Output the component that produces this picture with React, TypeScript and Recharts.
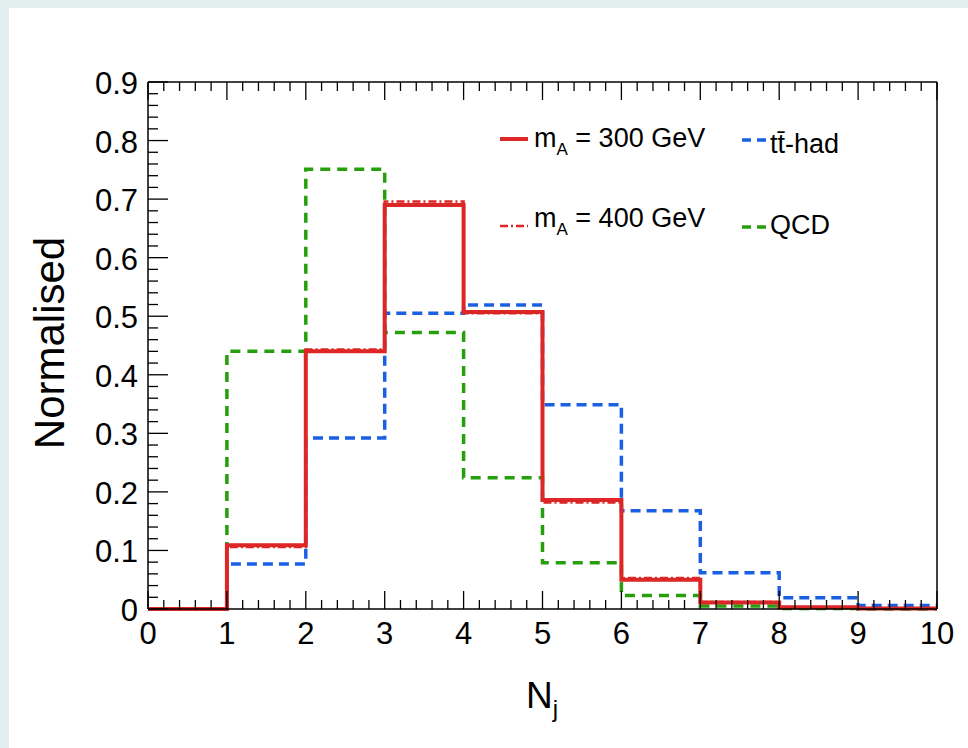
import React from "react";
import { LineChart, Line, XAxis, YAxis } from "recharts";

// bin lower edges (last entry closes the final bin)
const binEdges = [0, 1, 2, 3, 4, 5, 6, 7, 8, 9, 10];

// normalised counts per N_j bin
const mA300 = [0, 0.109, 0.44, 0.69, 0.507, 0.186, 0.05, 0.011, 0.003, 0.001];
const mA400 = [0, 0.106, 0.443, 0.696, 0.505, 0.182, 0.053, 0.012, 0.003, 0.001];
const ttHad = [0, 0.077, 0.292, 0.505, 0.519, 0.349, 0.168, 0.062, 0.019, 0.006];
const qcd = [0, 0.44, 0.751, 0.472, 0.224, 0.079, 0.023, 0.005, 0.001, 0];

const xMajorLabels = ["0", "1", "2", "3", "4", "5", "6", "7", "8", "9", "10"];
const yMajorLabels = ["0", "0.1", "0.2", "0.3", "0.4", "0.5", "0.6", "0.7", "0.8", "0.9"];

const xTicks = Array.from({ length: 51 }, (_, i) => i / 5);
const yTicks = Array.from({ length: 46 }, (_, i) => i / 50);

const RED = "#dd2626";
const BLUE = "#1b5fe3";
const GREEN = "#25a00c";
const FONT = "'Liberation Sans', Arial, Helvetica, sans-serif";

// step histogram: last edge repeats the final bin so the step closes at 10
const data = binEdges.map((x, i) => {
  const k = Math.min(i, mA300.length - 1);
  return { x, r300: mA300[k], r400: mA400[k], tt: ttHad[k], qcd: qcd[k] };
});

const isXMajor = (v: number) => Math.round(v * 5) % 5 === 0;
const isYMajor = (v: number) => Math.round(v * 50) % 5 === 0;

function BottomTick(props: any) {
  const { x, y, payload } = props;
  const major = isXMajor(payload.value);
  return (
    <g>
      <line x1={x} y1={y} x2={x} y2={y - (major ? 18 : 9)} stroke="#000" strokeWidth={1.3} />
      {major && (
        <text x={x} y={y + 35} textAnchor="middle" fontSize={31} fontFamily={FONT} fill="#000">
          {xMajorLabels[Math.round(payload.value)]}
        </text>
      )}
    </g>
  );
}

function TopTick(props: any) {
  const { x, y, payload } = props;
  const major = isXMajor(payload.value);
  return <line x1={x} y1={y} x2={x} y2={y + (major ? 18 : 9)} stroke="#000" strokeWidth={1.3} />;
}

function LeftTick(props: any) {
  const { x, y, payload } = props;
  const major = isYMajor(payload.value);
  return (
    <g>
      <line x1={x} y1={y} x2={x + (major ? 20 : 10)} y2={y} stroke="#000" strokeWidth={1.3} />
      {major && (
        <text x={x - 10} y={y + 12} textAnchor="end" fontSize={31} fontFamily={FONT} fill="#000">
          {yMajorLabels[Math.round(payload.value * 10)]}
        </text>
      )}
    </g>
  );
}

function RightTick(props: any) {
  const { x, y, payload } = props;
  const major = isYMajor(payload.value);
  return <line x1={x} y1={y} x2={x - (major ? 20 : 10)} y2={y} stroke="#000" strokeWidth={1.3} />;
}

export default function App() {
  return (
    <div style={{ position: "absolute", left: 0, top: 0, width: 968, height: 748, background: "#e3efef" }}>
      <div style={{ position: "absolute", left: 9, top: 8, width: 959, height: 740, background: "#fff" }} />
      <div style={{ position: "absolute", left: 0, top: 0 }}>
        <LineChart
          width={968}
          height={748}
          data={data}
          margin={{ top: 81, right: 30, bottom: 138, left: 147 }}
        >
          <XAxis
            dataKey="x"
            type="number"
            domain={[0, 10]}
            ticks={xTicks}
            interval={0}
            height={1}
            tickSize={0}
            tickMargin={0}
            tickLine={false}
            axisLine={{ stroke: "#000", strokeWidth: 1.5 }}
            tick={<BottomTick />}
          />
          <XAxis
            xAxisId="top"
            orientation="top"
            dataKey="x"
            type="number"
            domain={[0, 10]}
            ticks={xTicks}
            interval={0}
            height={1}
            tickSize={0}
            tickMargin={0}
            tickLine={false}
            axisLine={{ stroke: "#000", strokeWidth: 1.5 }}
            tick={<TopTick />}
          />
          <YAxis
            type="number"
            domain={[0, 0.9]}
            ticks={yTicks}
            interval={0}
            width={1}
            tickSize={0}
            tickMargin={0}
            tickLine={false}
            axisLine={{ stroke: "#000", strokeWidth: 1.5 }}
            tick={<LeftTick />}
          />
          <YAxis
            yAxisId="right"
            orientation="right"
            type="number"
            domain={[0, 0.9]}
            ticks={yTicks}
            interval={0}
            width={1}
            tickSize={0}
            tickMargin={0}
            tickLine={false}
            axisLine={{ stroke: "#000", strokeWidth: 1.5 }}
            tick={<RightTick />}
          />
          <Line type="stepAfter" dataKey="qcd" stroke={GREEN} strokeWidth={3.5} strokeDasharray="10 7" dot={false} isAnimationActive={false} />
          <Line type="stepAfter" dataKey="tt" stroke={BLUE} strokeWidth={3.5} strokeDasharray="10 6" dot={false} isAnimationActive={false} />
          <Line type="stepAfter" dataKey="r400" stroke={RED} strokeWidth={2.5} strokeDasharray="8 3 2 3" dot={false} isAnimationActive={false} />
          <Line type="stepAfter" dataKey="r300" stroke={RED} strokeWidth={4} dot={false} isAnimationActive={false} />
        </LineChart>
      </div>
      <svg width={968} height={748} style={{ position: "absolute", left: 0, top: 0, pointerEvents: "none" }}>
        <g fontFamily={FONT} fill="#000">
          <line x1={500} y1={139} x2={528} y2={139} stroke={RED} strokeWidth={4} />
          <text x={534} y={147} fontSize={27}>
            m<tspan fontSize={17} dy={8}>A</tspan>
            <tspan dy={-8}> = 300 GeV</tspan>
          </text>
          <line x1={500} y1={226} x2={528} y2={226} stroke={RED} strokeWidth={2.5} strokeDasharray="8 3 2 3" />
          <text x={534} y={227} fontSize={27}>
            m<tspan fontSize={17} dy={8}>A</tspan>
            <tspan dy={-8}> = 400 GeV</tspan>
          </text>
          <line x1={742} y1={140} x2={767} y2={140} stroke={BLUE} strokeWidth={3.5} strokeDasharray="9 6" />
          <text x={770} y={153} fontSize={27}>tt{"\u0304"}-had</text>
          <line x1={742} y1={227} x2={767} y2={227} stroke={GREEN} strokeWidth={3.5} strokeDasharray="9 6" />
          <text x={770} y={234} fontSize={27}>QCD</text>
          <text x={64} y={343} fontSize={42} textAnchor="middle" transform="rotate(-90 64 343)">
            Normalised
          </text>
          <text x={526} y={708} fontSize={37}>
            N<tspan fontSize={24} dy={9}>j</tspan>
          </text>
        </g>
      </svg>
    </div>
  );
}
